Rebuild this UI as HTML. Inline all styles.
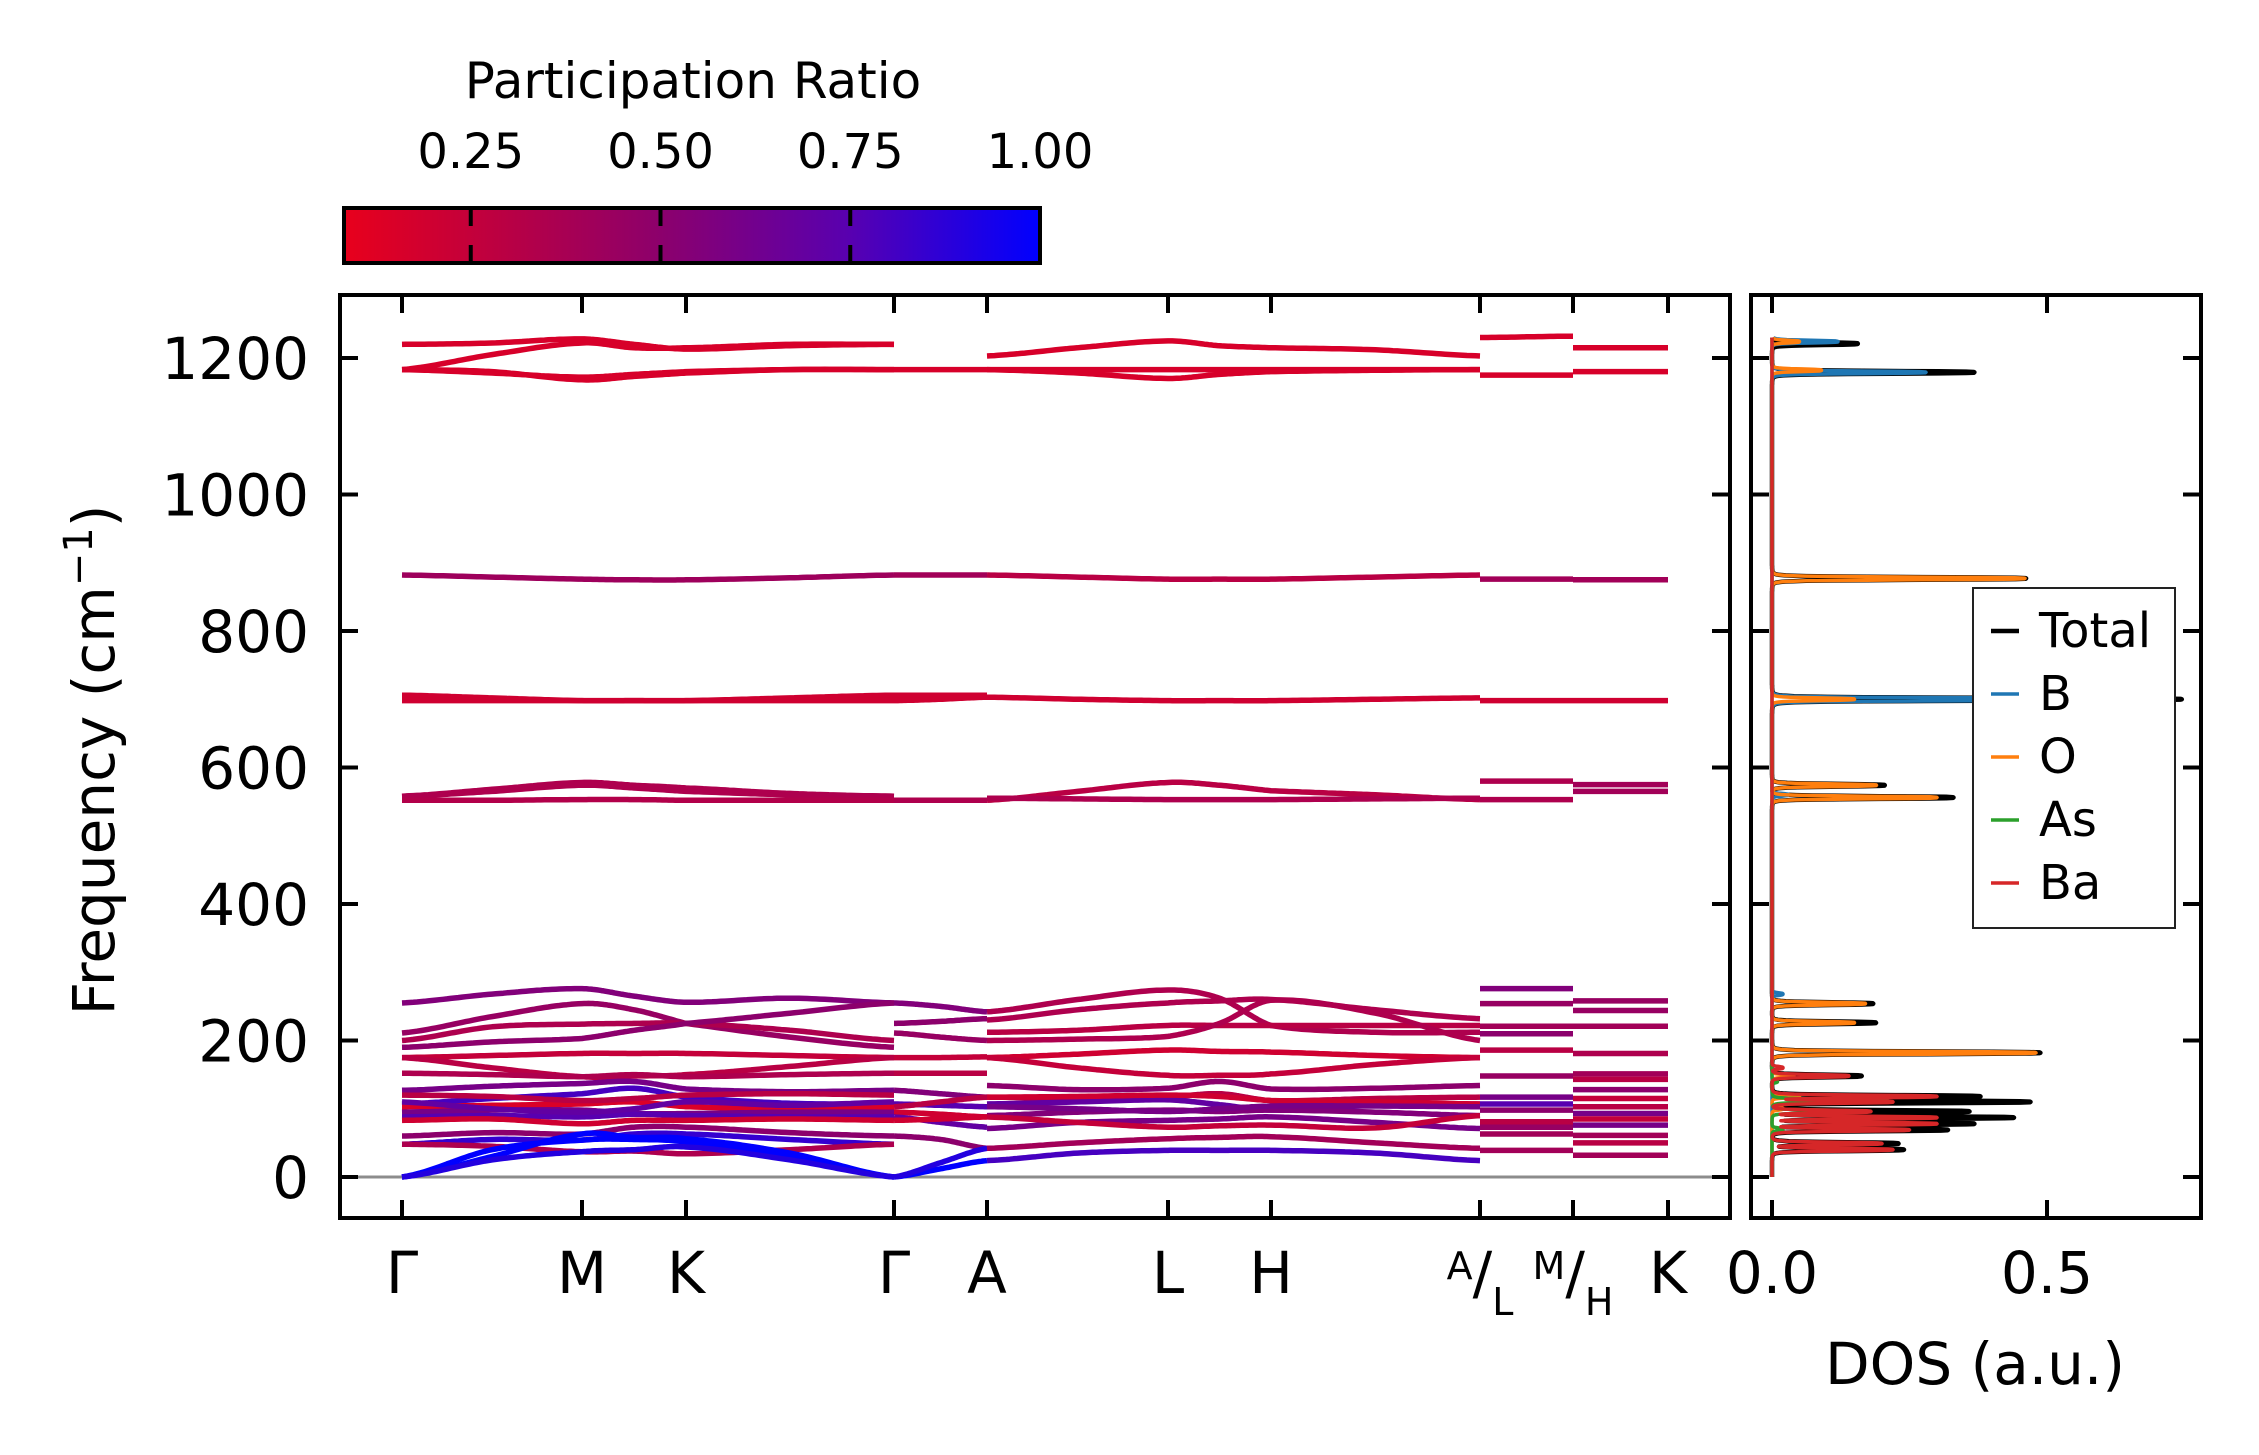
<!DOCTYPE html>
<html><head><meta charset="utf-8"><style>
html,body{margin:0;padding:0;background:#fff}
svg{display:block;font-family:"DejaVu Sans","Liberation Sans",sans-serif}
</style></head><body>
<svg id="c" width="2259" height="1455" viewBox="0 0 2259 1455" xmlns="http://www.w3.org/2000/svg">
<defs>
<linearGradient id="cbg" x1="0" x2="1" y1="0" y2="0">
<stop offset="0" stop-color="#e8001c"/><stop offset="0.18" stop-color="#c4003a"/><stop offset="0.455" stop-color="#8c006c"/><stop offset="0.727" stop-color="#5800b0"/><stop offset="1" stop-color="#0000ff"/>
</linearGradient>
<clipPath id="mainclip"><rect x="340" y="295" width="1390" height="923"/></clipPath>
<clipPath id="dosclip"><rect x="1751" y="295" width="450" height="923"/></clipPath>
</defs>
<g>
<text x="693" y="98" font-size="50" text-anchor="middle">Participation Ratio</text>
<rect x="344" y="208" width="696" height="55" fill="url(#cbg)" stroke="#000" stroke-width="4"/>
<g id="cbticks"></g>
</g>
<g id="main"></g>
<g id="dos"></g>
</svg>
<script>
const NS="http://www.w3.org/2000/svg";
// ---- data ----
const kLabels=["Γ","M","K","Γ","A","L","H","A/L","M/H","K"];
const kPix=[402,582,686,894,987,1168,1271,1480,1573,1668];
const yTicks=[0,200,400,600,800,1000,1200];
const cbTicks=[0.25,0.5,0.75,1.0];
const dosTicks=[0.0,0.5];
const segA=[0,0.5,1,1.5,2,2.5,3];
const segB=[3,3.5,4];
const segC=[4,4.5,5,5.5,6,6.5,7];
const segD=[7,8];
const segE=[8,9];
const bandsA=[
[1220,1222,1228,1220,1213,1218,1220],[1183,1205,1222,1215,1215,1220,1220],[1183,1178,1172,1176,1180,1183,1183],[1183,1180,1168,1173,1178,1183,1183],
[882,879,876,875,875,878,882],[706,702,698,698,698,702,706],[698,698,698,698,698,698,698],
[558,568,578,574,570,562,558],[558,565,574,570,565,560,558],[552,552,553,553,552,552,552],
[255,268,276,265,256,262,255],[211,235,254,245,225,205,190],[200,220,224,225,225,215,200],[190,198,203,215,225,240,255],
[175,178,181,181,181,178,175],[175,160,147,148,150,162,175],[152,150,147,150,147,150,152],[127,133,137,140,129,125,127],
[107,115,122,130,117,108,107],[103,105,107,110,103,100,103],[95,98,98,93,93,95,95],[88,90,88,92,90,88,88],[83,85,78,83,83,85,83],
[110,100,95,100,110,105,110],[120,118,112,115,120,122,120],[60,65,63,73,73,65,60],[48,55,54,63,63,55,48],[48,45,37,38,34,40,48],
[0,40,54,55,51,30,0],[0,30,63,58,56,35,0],[0,25,37,40,44,25,0]];
const prA=[.16,.16,.16,.16,.42,.2,.2,.35,.35,.33,.55,.45,.35,.5,.25,.3,.35,.6,.8,.15,.6,.75,.2,.7,.3,.5,.85,.35,1,1,.9];
const bandsB=[[1183,1183,1183],[882,882,882],[706,706,706],[698,700,703],[552,552,552],[255,250,242],[225,228,232],[211,205,200],[175,175,176],[152,152,152],
[127,122,117],[107,105,103],[95,92,88],[88,80,73],[83,85,88],[60,55,42],[0,12,24],[0,21,42],[103,110,117]];
const prB=[.16,.4,.2,.2,.35,.55,.5,.45,.25,.3,.55,.75,.2,.7,.2,.5,1,.9,.3];
const bandsC=[[1203,1215,1225,1218,1215,1212,1203],[1183,1178,1170,1176,1180,1182,1183],[1183,1183,1183,1183,1183,1183,1183],
[882,879,876,876,876,879,882],[703,700,698,698,698,700,702],[552,565,578,574,566,560,553],[555,554,553,553,553,554,555],
[242,260,274,262,222,212,212],[230,245,255,258,260,245,232],[212,215,222,222,222,222,222],[200,202,206,225,259,240,200],
[175,180,186,184,183,178,175],[175,160,149,149,151,165,175],[134,128,130,140,129,130,134],[117,115,117,122,112,115,117],
[107,110,113,106,98,105,107],[90,95,98,96,98,95,90],[71,80,83,85,88,80,71],[88,80,73,75,76,72,90],[42,50,56,58,59,50,42],
[24,35,39,39,39,35,24],[117,118,120,118,112,110,107],[103,100,96,100,104,104,103]];
const prC=[.16,.16,.16,.3,.2,.3,.35,.35,.35,.3,.35,.2,.25,.5,.3,.7,.55,.6,.25,.4,.8,.2,.6];
const bandsD=[[1230,1232],[1175,1175],[876,876],[698,698],[580,580],[553,553],[276,276],[254,254],[221,221],[210,210],[186,186],[148,148],[117,117],[107,107],[98,98],[81,81],[73,73],[63,63],[39,39]];
const prD=[.16,.16,.4,.2,.35,.35,.55,.45,.4,.5,.3,.45,.6,.75,.5,.3,.45,.4,.4];
const bandsE=[[1215,1215],[1180,1180],[875,875],[698,698],[575,575],[565,565],[258,258],[244,244],[221,221],[181,181],[151,151],[143,143],[128,128],[115,115],[103,103],[93,93],[85,85],[76,76],[61,61],[50,50],[32,32]];
const prE=[.16,.16,.4,.2,.4,.4,.45,.45,.4,.35,.4,.3,.5,.25,.3,.6,.25,.6,.4,.3,.4];
const dosFreqTotal=[1221,1179,877,700,574,556,254,226,182,148,118,110,96,87,78,69,49,40];
const dosValTotal=[0.156,0.368,0.462,0.745,0.205,0.33,0.184,0.189,0.488,0.163,0.379,0.47,0.359,0.44,0.368,0.32,0.23,0.24];
const dosFreqB=[1224,1179,700,560,268];
const dosValB=[0.12,0.28,0.73,0.03,0.02];
const dosFreqO=[1224,1182,877,700,574,556,254,226,182,148,118,100];
const dosValO=[0.05,0.09,0.46,0.15,0.19,0.30,0.17,0.15,0.48,0.04,0.05,0.02];
const dosFreqAs=[140,112,96,70];
const dosValAs=[0.01,0.21,0.16,0.02];
const dosFreqBa=[160,148,118,110,96,87,78,69,49,40];
const dosValBa=[0.02,0.14,0.30,0.22,0.18,0.30,0.30,0.25,0.20,0.22];
// ---- scales ----
const Y0=1177, PXPF=0.6825;
function yS(f){return Y0-f*PXPF;}
function kS(k){const i=Math.floor(k);if(i>=kPix.length-1)return kPix[kPix.length-1];return kPix[i]+(kPix[i+1]-kPix[i])*(k-i);}
const DX0=1772, DPX=550;
function dS(v){return DX0+v*DPX;}
const stops=[[0.083,[232,0,28]],[0.25,[196,0,58]],[0.5,[140,0,108]],[0.75,[88,0,176]],[1,[0,0,255]]];
function prColor(p){p=Math.max(0.083,Math.min(1,p));for(let i=0;i<stops.length-1;i++){const a=stops[i],b=stops[i+1];if(p<=b[0]){const t=(p-a[0])/(b[0]-a[0]);const c=a[1].map((v,j)=>Math.round(v+(b[1][j]-v)*t));return `rgb(${c[0]},${c[1]},${c[2]})`;}}return "rgb(0,0,255)";}
function el(tag,attrs,parent){const e=document.createElementNS(NS,tag);for(const k in attrs)e.setAttribute(k,attrs[k]);parent.appendChild(e);return e;}
const cbg=document.getElementById('cbticks');
cbTicks.forEach(v=>{const x=344+(v-0.083)/(1-0.083)*696;
 if(v<1){const t1=el('line',{x1:x,x2:x,y1:208,y2:226,stroke:'#000','stroke-width':4},cbg);
 const t2=el('line',{x1:x,x2:x,y1:245,y2:263,stroke:'#000','stroke-width':4},cbg);}
 const t=el('text',{x:x,y:168,'font-size':48,'text-anchor':'middle'},cbg);t.textContent=v.toFixed(2);
 });
const main=document.getElementById('main');
const zl=el('line',{x1:340,x2:1730,y1:yS(0),y2:yS(0),stroke:'#8c8c8c','stroke-width':3},main);

const bandG=el('g',{'clip-path':'url(#mainclip)'},main);

function cr(p0,p1,p2,p3,t){const t2=t*t,t3=t2*t;return 0.5*((2*p1)+(-p0+p2)*t+(2*p0-5*p1+4*p2-p3)*t2+(-p0+3*p1-3*p2+p3)*t3);}
function drawSeg(nodes,bands,prs,name){
 const g=el('g',{},bandG);
 bands.forEach((b,bi)=>{const col=prColor(prs[bi]);
  const n=b.length;let d='';
  for(let i=0;i<n-1;i++){const p0=b[Math.max(0,i-1)],p1=b[i],p2=b[i+1],p3=b[Math.min(n-1,i+2)];
   const steps=24;for(let s=0;s<=steps;s++){if(i>0&&s===0)continue;const t=s/steps;const f=cr(p0,p1,p2,p3,t);const k=nodes[i]+(nodes[i+1]-nodes[i])*t;
    d+=(d?'L':'M')+kS(k).toFixed(1)+' '+yS(f).toFixed(1);}}
  const p=el('path',{d:d,fill:'none',stroke:col,'stroke-width':5.5,'stroke-linejoin':'round'},g);
  });}
drawSeg(segA,bandsA,prA,'segment-gamma-m-k-gamma');
drawSeg(segB,bandsB,prB,'segment-gamma-a');
drawSeg(segC,bandsC,prC,'segment-a-l-h-a');
drawSeg(segD,bandsD,prD,'segment-l-m');
drawSeg(segE,bandsE,prE,'segment-h-k');
const fr=el('rect',{x:340,y:295,width:1390,height:923,fill:'none',stroke:'#000','stroke-width':4},main);

yTicks.forEach(v=>{const y=yS(v);
 const a=el('line',{x1:340,x2:358,y1:y,y2:y,stroke:'#000','stroke-width':4},main);
 const b=el('line',{x1:1712,x2:1730,y1:y,y2:y,stroke:'#000','stroke-width':4},main);
 const t=el('text',{x:309,y:y+21,'font-size':58,'text-anchor':'end'},main);t.textContent=v;});
kPix.forEach((x,i)=>{
 const a=el('line',{x1:x,x2:x,y1:1200,y2:1218,stroke:'#000','stroke-width':4},main);
 const b=el('line',{x1:x,x2:x,y1:295,y2:313,stroke:'#000','stroke-width':4},main);
 const lab=kLabels[i];
 const t=el('text',{x:x,y:1293,'font-size':58,'text-anchor':'middle'},main);
 
 if(lab.includes('/')){const [u,l]=lab.split('/');
  const s1=el('tspan',{'font-size':38,dy:-14},t);s1.textContent=u;
  const s2=el('tspan',{dy:14},t);s2.textContent='/';
  const s3=el('tspan',{'font-size':38,dy:22},t);s3.textContent=l;
 } else t.textContent=lab;});
const yl=el('text',{x:0,y:0,'font-size':58,'text-anchor':'middle',transform:'translate(114,760) rotate(-90)'},main);

yl.appendChild(document.createTextNode('Frequency (cm'));
const sup=el('tspan',{'font-size':40,dy:-22},yl);sup.textContent='−1';
const cl=el('tspan',{dy:22},yl);cl.textContent=')';
const dos=document.getElementById('dos');
const dg=el('g',{'clip-path':'url(#dosclip)'},dos);

function dosPath(fr,vals,color,name,w){
 let d='';const g=2.2;
 for(let f=0;f<=1230;f+=0.5){let v=0;for(let i=0;i<fr.length;i++){const x=(f-fr[i])/g;v=Math.max(v,vals[i]/(1+x*x*x*x));}
  if(f<2)v=0;
  d+=(d?'L':'M')+dS(v).toFixed(1)+' '+yS(f).toFixed(1);}
 const p=el('path',{d:d,fill:'none',stroke:color,'stroke-width':w,'stroke-linejoin':'round'},dg);
 }
dosPath(dosFreqTotal,dosValTotal,'#000','dos-total',4.5);
dosPath(dosFreqB,dosValB,'#1f77b4','dos-b',3.5);
dosPath(dosFreqO,dosValO,'#ff7f0e','dos-o',3.5);
dosPath(dosFreqAs,dosValAs,'#2ca02c','dos-as',3.5);
dosPath(dosFreqBa,dosValBa,'#d62728','dos-ba',3.5);
const dfr=el('rect',{x:1751,y:295,width:450,height:923,fill:'none',stroke:'#000','stroke-width':4},dos);

yTicks.forEach(v=>{const y=yS(v);
 const a=el('line',{x1:1751,x2:1769,y1:y,y2:y,stroke:'#000','stroke-width':4},dos);
 const b=el('line',{x1:2183,x2:2201,y1:y,y2:y,stroke:'#000','stroke-width':4},dos);});
dosTicks.forEach(v=>{const x=dS(v);
 const a=el('line',{x1:x,x2:x,y1:1200,y2:1218,stroke:'#000','stroke-width':4},dos);
 const b=el('line',{x1:x,x2:x,y1:295,y2:313,stroke:'#000','stroke-width':4},dos);
 const t=el('text',{x:x,y:1293,'font-size':58,'text-anchor':'middle'},dos);t.textContent=v.toFixed(1);});
const dl=el('text',{x:1975,y:1384,'font-size':58,'text-anchor':'middle'},dos);dl.textContent='DOS (a.u.)';

const legNames=['Total','B','O','As','Ba'];
const legColors=['#000','#1f77b4','#ff7f0e','#2ca02c','#d62728'];
const lg=el('g',{},dos);
const lb=el('rect',{x:1973,y:588,width:202,height:340,fill:'#fff',stroke:'#222','stroke-width':2},lg);

legNames.forEach((n,i)=>{const y=631+i*63;
 const l=el('line',{x1:1991,x2:2019,y1:y,y2:y,stroke:legColors[i],'stroke-width':i===0?4.5:3.5},lg);
 const t=el('text',{x:2039,y:y+16,'font-size':48},lg);t.textContent=n;});
</script>
</body></html>
